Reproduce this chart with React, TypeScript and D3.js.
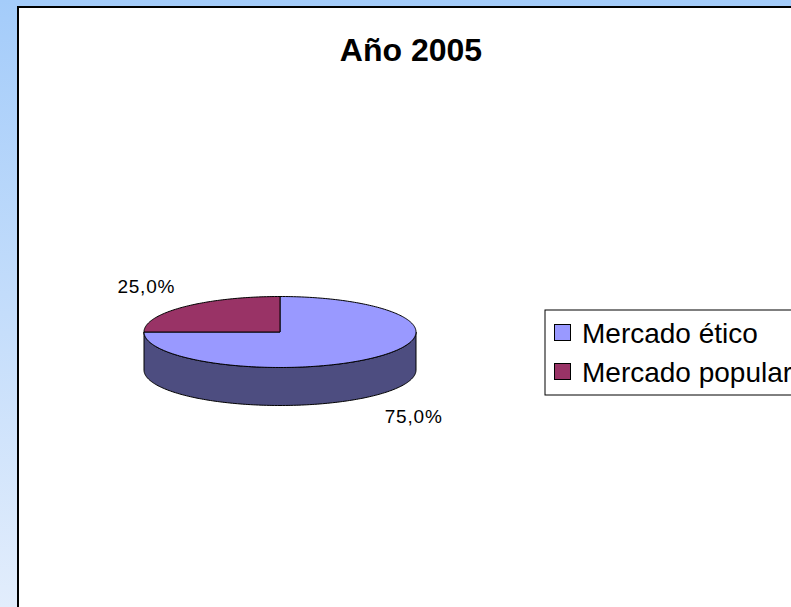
import { useEffect, useRef } from 'react';
import * as d3 from 'd3';

const categories = ['Mercado ético', 'Mercado popular'];
const values = [75, 25];
const valueLabels = ['75,0%', '25,0%'];
const title = 'Año 2005';

const topColors = ['#9999FF', '#993366'];
const sideColors = ['#4D4D80', '#4D1A33'];

const App = () => {
  const svgRef = useRef<SVGSVGElement>(null);

  useEffect(() => {
    document.body.style.margin = '0';
    if (!svgRef.current) return;
    d3.select(svgRef.current).selectAll('*').remove();

    const width = 791;
    const height = 607;
    const svg = d3.select(svgRef.current)
      .attr('width', width)
      .attr('height', height)
      .style('display', 'block');

    // background gradient
    const defs = svg.append('defs');
    const grad = defs.append('linearGradient')
      .attr('id', 'bg')
      .attr('x1', 0).attr('y1', 0).attr('x2', 0).attr('y2', 1);
    grad.append('stop').attr('offset', '0%').attr('stop-color', '#A4CCFA');
    grad.append('stop').attr('offset', '100%').attr('stop-color', '#E2EDFC');

    svg.append('rect')
      .attr('width', width).attr('height', height)
      .attr('fill', 'url(#bg)');

    // chart area
    const frameX = 18;
    const frameY = 7;
    svg.append('rect')
      .attr('x', frameX).attr('y', frameY)
      .attr('width', width).attr('height', height)
      .attr('fill', '#fff')
      .attr('stroke', '#000')
      .attr('stroke-width', 2);

    svg.append('text')
      .attr('x', 411)
      .attr('y', 61)
      .attr('text-anchor', 'middle')
      .attr('font-family', 'Liberation Sans, Arial, sans-serif')
      .attr('font-weight', 'bold')
      .attr('font-size', 32)
      .text(title);

    // 3D pie
    const cx = 280;
    const cy = 332;
    const rx = 136;
    const ry = 35.5;
    const depth = 38;

    const pie = d3.pie<number>().sort(null).value(d => d);
    const arcs = pie(values);

    const pt = (a: number, dy = 0): [number, number] =>
      [cx + rx * Math.sin(a), cy - ry * Math.cos(a) + dy];

    const arcPoints = (a0: number, a1: number, dy = 0) => {
      const n = Math.max(2, Math.ceil(Math.abs(a1 - a0) / 0.02));
      return d3.range(n + 1).map(i => pt(a0 + (a1 - a0) * i / n, dy));
    };

    const line = d3.line();
    const g = svg.append('g');

    // sides (front half: angles pi/2 .. 3pi/2)
    arcs.forEach((d, i) => {
      const a0 = Math.max(d.startAngle, Math.PI / 2);
      const a1 = Math.min(d.endAngle, Math.PI * 1.5);
      if (a1 <= a0) return;
      const pts = [...arcPoints(a0, a1), ...arcPoints(a1, a0, depth)];
      g.append('path')
        .attr('d', line(pts) + 'Z')
        .attr('fill', sideColors[i])
        .attr('stroke', '#000')
        .attr('stroke-width', 1)
        .attr('stroke-linejoin', 'round');
    });

    // tops
    arcs.forEach((d, i) => {
      const pts: [number, number][] = [[cx, cy], ...arcPoints(d.startAngle, d.endAngle)];
      g.append('path')
        .attr('d', line(pts) + 'Z')
        .attr('fill', topColors[i])
        .attr('stroke', '#000')
        .attr('stroke-width', 1)
        .attr('stroke-linejoin', 'round');
    });

    // value labels
    arcs.forEach((d, i) => {
      const mid = (d.startAngle + d.endAngle) / 2;
      const front = Math.cos(mid) < 0;
      const x = cx + rx * 1.39 * Math.sin(mid);
      const y = cy - ry * 1.83 * Math.cos(mid) + (front ? depth : 0);
      g.append('text')
        .attr('x', x)
        .attr('y', y)
        .attr('dy', '0.35em')
        .attr('text-anchor', 'middle')
        .attr('font-family', 'Liberation Sans, Arial, sans-serif')
        .attr('font-size', 19)
        .attr('letter-spacing', 0.8)
        .text(valueLabels[i]);
    });

    // legend
    const lx = 545;
    const ly = 310;
    const rowH = 39;
    const legend = svg.append('g');
    legend.append('rect')
      .attr('x', lx).attr('y', ly)
      .attr('width', 300).attr('height', rowH * categories.length + 7)
      .attr('fill', '#fff')
      .attr('stroke', '#000')
      .attr('stroke-width', 1);
    categories.forEach((c, i) => {
      const yc = ly + 23 + i * rowH;
      legend.append('rect')
        .attr('x', lx + 9.5).attr('y', yc - 8.5)
        .attr('width', 16).attr('height', 16)
        .attr('fill', topColors[i])
        .attr('stroke', '#000')
        .attr('stroke-width', 1);
      legend.append('text')
        .attr('x', lx + 37)
        .attr('y', yc)
        .attr('dy', '0.36em')
        .attr('font-family', 'Liberation Sans, Arial, sans-serif')
        .attr('font-size', 28)
        .text(c);
    });
  }, []);

  return <svg ref={svgRef} />;
};

export default App;
